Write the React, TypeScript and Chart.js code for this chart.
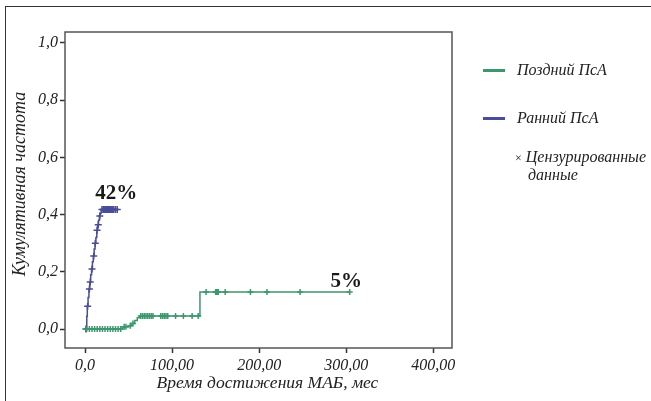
import React, { useEffect, useRef } from "react";
import { Chart, registerables } from "chart.js";

Chart.register(...registerables);

// Early PsA (blue) — cumulative incidence steps
const earlyEventTimes = [2, 2.6, 3.5, 4.5, 5.5, 6.5, 7.5, 8.5, 9.5, 10.5, 11.5, 12.5, 13.5, 14.5, 15.5, 16.5, 17.5, 18.5];
const earlyEventValues = [0.045, 0.08, 0.11, 0.14, 0.165, 0.19, 0.21, 0.235, 0.255, 0.28, 0.3, 0.32, 0.345, 0.365, 0.38, 0.395, 0.405, 0.418];
const earlyCensorTimes = [1, 3, 5, 6, 8, 10, 11.8, 13.8, 15.2, 17, 19.5, 21, 22, 23, 24, 25, 26, 27, 28, 29, 30, 31, 32, 33, 35, 37];

// Late PsA (green)
const lateEventTimes = [43, 50, 53, 57, 60, 63, 132];
const lateEventValues = [0.008, 0.012, 0.02, 0.03, 0.04, 0.046, 0.13];
const lateCensorTimes = [2, 5, 8, 11, 14, 17, 20, 23, 26, 29, 32, 35, 38, 41, 45, 47, 52, 55, 64, 66, 68, 70, 72, 74, 76, 78, 87, 89, 91, 93, 95, 104, 113, 123, 130, 139, 150, 151, 152, 153, 161, 190, 209, 247, 304];

const xTicks = [0, 100, 200, 300, 400];
const yTicks = [0, 0.2, 0.4, 0.6, 0.8, 1.0];

const seriesNames = ["Поздний ПсА", "Ранний ПсА"];
const censorLabel = "Цензурированные";
const censorLabel2 = "данные";
const xTitle = "Время достижения МАБ, мес";
const yTitle = "Кумулятивная частота";
const annotations = [
  { text: "42%", x: 36, y: 0.475 },
  { text: "5%", x: 300, y: 0.165 },
];

const GREEN = "#3d976d";
const BLUE = "#4a4d98";

function buildSeries(evT: number[], evV: number[], cT: number[]) {
  const valueAt = (t: number) => {
    let v = 0;
    for (let i = 0; i < evT.length; i++) if (evT[i] <= t) v = evV[i];
    return v;
  };
  const pts: { x: number; y: number; c: boolean }[] = [{ x: 0, y: 0, c: false }];
  evT.forEach((t, i) => pts.push({ x: t, y: evV[i], c: false }));
  cT.forEach((t) => pts.push({ x: t, y: valueAt(t), c: true }));
  pts.sort((a, b) => a.x - b.x || (a.c ? 1 : -1));
  return pts;
}

const FONT = "'Liberation Serif', 'DejaVu Serif', serif";

export default function App() {
  const ref = useRef<HTMLCanvasElement>(null);
  useEffect(() => {
    if (!ref.current) return;
    const late = buildSeries(lateEventTimes, lateEventValues, lateCensorTimes);
    const early = buildSeries(earlyEventTimes, earlyEventValues, earlyCensorTimes);
    const boxPlugin = {
      id: "box",
      afterDraw(chart: any) {
        const { ctx, chartArea: a, scales } = chart;
        ctx.save();
        ctx.strokeStyle = "#555";
        ctx.lineWidth = 1.5;
        ctx.strokeRect(a.left, a.top, a.right - a.left, a.bottom - a.top);
        ctx.fillStyle = "#1a1a1a";
        ctx.font = `bold 21px ${FONT}`;
        ctx.textAlign = "center";
        ctx.textBaseline = "middle";
        annotations.forEach((an) => {
          ctx.fillText(an.text, scales.x.getPixelForValue(an.x), scales.y.getPixelForValue(an.y));
        });
        // axis titles
        ctx.fillStyle = "#222";
        ctx.font = `italic 17.5px ${FONT}`;
        ctx.fillText(xTitle, (a.left + a.right) / 2 + 9, 383);
        ctx.save();
        ctx.translate(20, (a.top + a.bottom) / 2 - 6);
        ctx.rotate(-Math.PI / 2);
        ctx.font = `italic 18px ${FONT}`;
        ctx.fillText(yTitle, 0, 0);
        ctx.restore();
        ctx.restore();
      },
    };
    const chart = new Chart(ref.current, {
      type: "line",
      data: {
        datasets: [
          {
            label: seriesNames[0],
            data: late,
            borderColor: GREEN,
            backgroundColor: GREEN,
            borderWidth: 1.5,
            stepped: "before",
            pointStyle: "cross",
            pointRadius: late.map((p) => (p.c ? 3 : 0)),
            pointBorderWidth: 1.5,
          },
          {
            label: seriesNames[1],
            data: early,
            borderColor: BLUE,
            backgroundColor: BLUE,
            borderWidth: 1.5,
            stepped: "before",
            pointStyle: "cross",
            pointRadius: early.map((p) => (p.c ? 3.5 : 0)),
            pointBorderWidth: 1.5,
          },
        ],
      },
      options: {
        animation: false,
        responsive: false,
        devicePixelRatio: 1,
        layout: { padding: { left: 0, right: 199, top: 32, bottom: 0 } },
        plugins: { legend: { display: false }, tooltip: { enabled: false } },
        scales: {
          x: {
            type: "linear",
            min: -23,
            max: 421.5,
            afterFit: (s: any) => {
              s.height = 53;
            },
            afterBuildTicks: (s: any) => {
              s.ticks = xTicks.map((v) => ({ value: v }));
            },
            border: { display: false },
            grid: { drawOnChartArea: false, drawTicks: true, tickLength: 5, color: "#333", tickWidth: 1.5 },
            ticks: {
              color: "#222",
              padding: 3,
              maxRotation: 0,
              font: { family: FONT, size: 16, style: "italic" },
              callback: (v: any) => (v === 0 ? "0,0" : Number(v).toFixed(2).replace(".", ",")),
            },
            title: { display: false },
          },
          y: {
            type: "linear",
            min: -0.066,
            max: 1.038,
            afterFit: (s: any) => {
              s.width = 65;
            },
            afterBuildTicks: (s: any) => {
              s.ticks = yTicks.map((v) => ({ value: v }));
            },
            border: { display: false },
            grid: { drawOnChartArea: false, drawTicks: true, tickLength: 5, color: "#333", tickWidth: 1.5 },
            ticks: {
              color: "#222",
              padding: 2,
              font: { family: FONT, size: 16, style: "italic" },
              callback: (v: any) => Number(v).toFixed(1).replace(".", ","),
            },
            title: { display: false },
          },
        },
      },
      plugins: [boxPlugin],
    } as any);
    return () => chart.destroy();
  }, []);

  const legendText: React.CSSProperties = {
    position: "absolute",
    fontFamily: FONT,
    fontStyle: "italic",
    fontSize: 16,
    color: "#222",
    lineHeight: "18px",
    whiteSpace: "nowrap",
  };
  const swatch = (color: string, top: number): React.CSSProperties => ({
    position: "absolute",
    left: 483,
    top,
    width: 22,
    height: 3,
    background: color,
  });

  return (
    <div style={{ position: "absolute", left: 0, top: 0, width: 651, height: 401, background: "#fff", overflow: "hidden" }}>
      <div
        style={{
          position: "absolute",
          left: 5,
          top: 6,
          width: 646,
          height: 395,
          borderLeft: "1.5px solid #333",
          borderTop: "1.5px solid #333",
          boxSizing: "border-box",
        }}
      />
      <canvas ref={ref} width={651} height={401} style={{ position: "absolute", left: 0, top: 0 }} />
      <div style={swatch(GREEN, 69)} />
      <div style={{ ...legendText, left: 517, top: 61 }}>{seriesNames[0]}</div>
      <div style={swatch(BLUE, 117)} />
      <div style={{ ...legendText, left: 517, top: 109 }}>{seriesNames[1]}</div>
      <div style={{ ...legendText, left: 515, top: 148 }}>
        <span style={{ fontStyle: "normal", fontSize: 12 }}>×</span> {censorLabel}
      </div>
      <div style={{ ...legendText, left: 528, top: 166 }}>{censorLabel2}</div>
    </div>
  );
}
